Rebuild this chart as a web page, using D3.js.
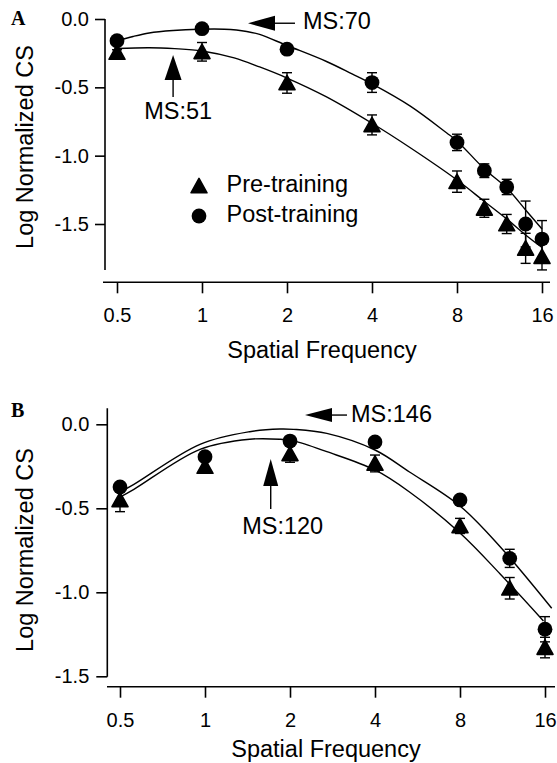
<!DOCTYPE html>
<html lang="en">
<head>
<meta charset="UTF-8">
<title>Log normalized contrast sensitivity, pre vs post training</title>
<script src="https://d3js.org/d3.v7.min.js"></script>
<style>
  body { margin: 0; background: #fff; }
  svg { display: block; font-family: "Liberation Sans", Arial, Helvetica, sans-serif; }
  .tick text { font-size: 20px; fill: #000; }
  .tick line { stroke: #000; stroke-width: 1.6px; }
  .axis-line { stroke: #000; stroke-width: 1.6px; }
  .fit { fill: none; stroke: #000; stroke-width: 1.4px; }
  .err { stroke: #000; stroke-width: 1.4px; }
  .title { font-size: 23.5px; fill: #000; }
  .note { font-size: 23.5px; fill: #000; }
  .letter { font-family: "Liberation Serif", "Times New Roman", serif; font-weight: bold; font-size: 20px; }
</style>
</head>
<body>
<svg width="557" height="763"></svg>
<script>
// ---- values ----
const xTicks = [0.5, 1, 2, 4, 8, 16];
const yTicks = [0, -0.5, -1, -1.5];
const seriesNames = ["Pre-training", "Post-training"];

// panel A : measured points (triangles = pre, circles = post)
const freqA    = [0.5, 1, 2, 4, 8, 10, 12, 14, 16];
const preA     = [-0.245, -0.24, -0.468, -0.775, -1.19, -1.385, -1.50, -1.678, -1.739];
const preErrA  = [0.02, 0.068, 0.075, 0.073, 0.078, 0.066, 0.07, 0.11, 0.097];
const postA    = [-0.159, -0.071, -0.221, -0.465, -0.903, -1.11, -1.229, -1.50, -1.61];
const postErrA = [0.02, 0.02, 0.03, 0.072, 0.06, 0.05, 0.056, 0.168, 0.135];

// panel A : fitted curves
const preFitFreqA  = [0.5, 0.65, 0.8, 1, 1.3, 1.6, 2, 2.75, 4, 5.5, 8, 10, 12, 14, 16];
const preFitA      = [-0.216, -0.210, -0.217, -0.234, -0.285, -0.351, -0.432, -0.568, -0.763, -0.946, -1.178, -1.335, -1.463, -1.580, -1.672];
const postFitFreqA = [0.5, 0.57, 0.65, 0.79, 0.98, 1.2, 1.44, 1.6, 2, 2.76, 3.4, 4, 5.45, 7.36, 8, 10, 12, 14, 16];
const postFitA     = [-0.161, -0.128, -0.102, -0.084, -0.075, -0.075, -0.091, -0.113, -0.194, -0.311, -0.402, -0.475, -0.636, -0.834, -0.892, -1.097, -1.236, -1.397, -1.536];

// panel B
const freqB    = [0.5, 1, 2, 4, 8, 12, 16];
const preB     = [-0.45, -0.251, -0.176, -0.233, -0.605, -0.976, -1.329];
const preErrB  = [0.07, 0.03, 0.05, 0.05, 0.045, 0.064, 0.061];
const postB    = [-0.373, -0.193, -0.10, -0.105, -0.45, -0.798, -1.22];
const postErrB = [0.02, 0.02, 0.02, 0.02, 0.02, 0.054, 0.075];

const preFitFreqB  = [0.5, 0.56, 0.96, 1.44, 1.84, 2.06, 2.7, 4, 5.3, 8, 11.1, 15.8];
const preFitB      = [-0.433, -0.387, -0.149, -0.089, -0.089, -0.099, -0.163, -0.272, -0.403, -0.647, -0.891, -1.171];
const postFitFreqB = [0.5, 0.56, 0.96, 1.44, 1.84, 2.06, 2.7, 4, 5.3, 8, 11.1, 16.9];
const postFitB     = [-0.403, -0.357, -0.119, -0.044, -0.028, -0.030, -0.054, -0.153, -0.284, -0.486, -0.729, -1.095];

// arrows marking the peak (MS) of each fit
const notesA = [
  { label: "MS:51", freq: 0.79, value: -0.263, dir: "up" },
  { label: "MS:70", freq: 1.455, value: -0.031, dir: "left" }
];
const notesB = [
  { label: "MS:120", freq: 1.709, value: -0.207, dir: "up" },
  { label: "MS:146", freq: 2.26, value: 0.055, dir: "left" }
];

// ---- layout ----
const panels = [
  {
    letter: "A", letterPos: [11, 25],
    freq: freqA, pre: preA, preErr: preErrA, post: postA, postErr: postErrA,
    preFit: d3.zip(preFitFreqA, preFitA), postFit: d3.zip(postFitFreqA, postFitA),
    notes: notesA,
    xRange: [117, 542], xLine: [103, 550], xAxisY: 282.3,
    yRange: [19, 224], yLine: [19, 270], yAxisX: 105, yTickSize: 10, yPad: 6,
    xTitleY: 358, xTitleX: 322, yTitleX: 33, yTitleY: 147,
    up: { head: 25, half: 8.5, shaft: 42, dx: 5, dy: 64 },
    left: { head: 27, half: 7.5, shaft: 47, dx: 55, dy: 6 },
    legend: true
  },
  {
    letter: "B", letterPos: [11, 417],
    freq: freqB, pre: preB, preErr: preErrB, post: postB, postErr: postErrB,
    preFit: d3.zip(preFitFreqB, preFitB), postFit: d3.zip(postFitFreqB, postFitB),
    notes: notesB,
    xRange: [120, 545], xLine: [107, 555], xAxisY: 686.7,
    yRange: [424.3, 676.3], yLine: [408.3, 676.7], yAxisX: 107.3, yTickSize: 11, yPad: 7,
    xTitleY: 757, xTitleX: 326, yTitleX: 33, yTitleY: 550,
    up: { head: 27, half: 7.5, shaft: 50, dx: 12, dy: 75 },
    left: { head: 27, half: 7, shaft: 42, dx: 46, dy: 7 },
    legend: false
  }
];

const svg = d3.select("svg");
const triPath = "M0,-7.6 L8,6.8 L-8,6.8 Z";

function drawMarker(g, kind, cx, cy) {
  if (kind === "tri") {
    g.append("path")
      .attr("d", triPath)
      .attr("transform", `translate(${cx},${cy})`)
      .attr("fill", "#000").attr("stroke", "#000")
      .attr("stroke-width", 1.6).attr("stroke-linejoin", "round");
  } else {
    g.append("circle")
      .attr("cx", cx).attr("cy", cy).attr("r", 7.4)
      .attr("fill", "#000");
  }
}

panels.forEach(p => {
  const g = svg.append("g");

  const x = d3.scaleLog().base(2).domain([0.5, 16]).range(p.xRange);
  const y = d3.scaleLinear().domain([0, -1.5]).range(p.yRange);

  // x axis
  const xg = g.append("g")
    .attr("transform", `translate(0,${p.xAxisY})`)
    .call(d3.axisBottom(x).tickValues(xTicks).tickFormat(d => String(d))
      .tickSize(11).tickPadding(15).tickSizeOuter(0));
  xg.select(".domain").remove();
  g.append("line").attr("class", "axis-line")
    .attr("x1", p.xLine[0]).attr("x2", p.xLine[1])
    .attr("y1", p.xAxisY).attr("y2", p.xAxisY);

  // y axis
  const yg = g.append("g")
    .attr("transform", `translate(${p.yAxisX},0)`)
    .call(d3.axisLeft(y).tickValues(yTicks).tickFormat(d3.format(".1f"))
      .tickSize(p.yTickSize).tickPadding(p.yPad).tickSizeOuter(0));
  yg.select(".domain").remove();
  yg.selectAll(".tick text").text(d => d3.format(".1f")(d).replace("−", "-"));
  g.append("line").attr("class", "axis-line")
    .attr("x1", p.yAxisX).attr("x2", p.yAxisX)
    .attr("y1", p.yLine[0]).attr("y2", p.yLine[1]);

  // titles
  g.append("text").attr("class", "title")
    .attr("x", p.xTitleX).attr("y", p.xTitleY)
    .attr("text-anchor", "middle").text("Spatial Frequency");
  g.append("text").attr("class", "title")
    .attr("transform", `translate(${p.yTitleX},${p.yTitleY}) rotate(-90)`)
    .attr("text-anchor", "middle").text("Log Normalized CS");
  g.append("text").attr("class", "letter")
    .attr("x", p.letterPos[0]).attr("y", p.letterPos[1]).text(p.letter);

  // error bars
  const bars = [];
  p.freq.forEach((f, i) => {
    bars.push([f, p.pre[i], p.preErr[i]]);
    bars.push([f, p.post[i], p.postErr[i]]);
  });
  bars.forEach(([f, v, e]) => {
    const cx = x(f);
    g.append("line").attr("class", "err")
      .attr("x1", cx).attr("x2", cx).attr("y1", y(v + e)).attr("y2", y(v - e));
    [v + e, v - e].forEach(c => {
      g.append("line").attr("class", "err")
        .attr("x1", cx - 5).attr("x2", cx + 5).attr("y1", y(c)).attr("y2", y(c));
    });
  });

  // fitted curves
  const line = d3.line()
    .x(d => x(d[0])).y(d => y(d[1]))
    .curve(d3.curveCatmullRom.alpha(0.5));
  g.append("path").attr("class", "fit").attr("d", line(p.preFit));
  g.append("path").attr("class", "fit").attr("d", line(p.postFit));

  // markers
  p.freq.forEach((f, i) => {
    drawMarker(g, "tri", x(f), y(p.pre[i]));
    drawMarker(g, "circ", x(f), y(p.post[i]));
  });

  // MS arrows
  p.notes.forEach(n => {
    const tx = x(n.freq), ty = y(n.value);
    if (n.dir === "up") {
      const a = p.up;
      g.append("path").attr("fill", "#000")
        .attr("d", `M${tx},${ty} L${tx - a.half},${ty + a.head} L${tx + a.half},${ty + a.head} Z`);
      g.append("line").attr("stroke", "#000").attr("stroke-width", 1.4)
        .attr("x1", tx).attr("x2", tx).attr("y1", ty + a.head - 1).attr("y2", ty + a.shaft);
      g.append("text").attr("class", "note")
        .attr("x", tx + a.dx).attr("y", ty + a.dy)
        .attr("text-anchor", "middle").text(n.label);
    } else {
      const a = p.left;
      g.append("path").attr("fill", "#000")
        .attr("d", `M${tx},${ty} L${tx + a.head},${ty - a.half} L${tx + a.head},${ty + a.half} Z`);
      g.append("line").attr("stroke", "#000").attr("stroke-width", 1.4)
        .attr("x1", tx + a.head - 1).attr("x2", tx + a.shaft).attr("y1", ty).attr("y2", ty);
      g.append("text").attr("class", "note")
        .attr("x", tx + a.dx).attr("y", ty + a.dy).text(n.label);
    }
  });

  // legend
  if (p.legend) {
    const kinds = ["tri", "circ"];
    seriesNames.forEach((name, i) => {
      const ly = 186 + i * 30;
      drawMarker(g, kinds[i], 199, ly);
      g.append("text").attr("class", "title")
        .attr("x", 226.5).attr("y", ly + 6).text(name);
    });
  }
});
</script>
</body>
</html>
